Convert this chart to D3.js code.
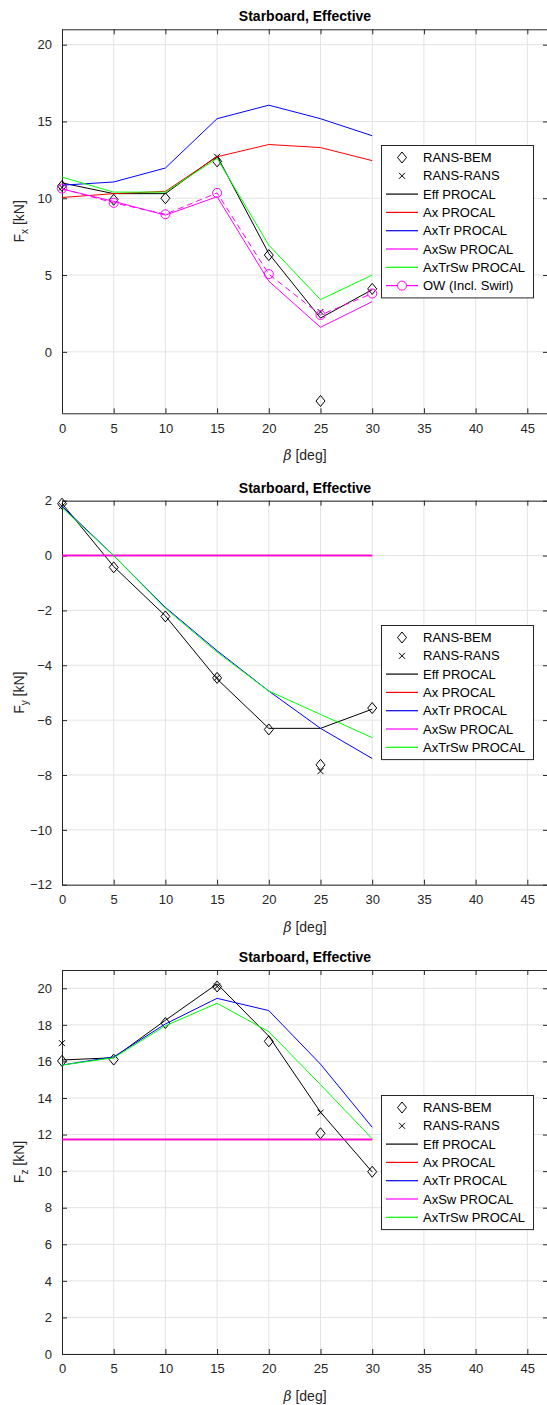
<!DOCTYPE html>
<html>
<head>
<meta charset="utf-8">
<script src="https://cdn.jsdelivr.net/npm/d3@7"></script>
<style>
  body { margin: 0; background: #fff; }
  svg { display: block; font-family: "Liberation Sans", Arial, Helvetica, sans-serif; }
  .tickLabel { font-size: 13px; fill: #262626; }
  .legendText { font-size: 13px; fill: #000; }
</style>
</head>
<body>
<div id="chart"></div>
<script>
var beta = [0, 5, 10, 15, 20, 25, 30];
var betaRansRans = [0, 15, 25];
var xTicks = d3.range(0, 50, 5);

// Fx
var fxRansBem = [10.8, 9.9, 10.0, 12.4, 6.3, -3.2, 4.1];
var fxRansRans = [10.7, 12.7, 2.6];
var fxEff = [11.0, 10.3, 10.3, 12.75, 6.4, 2.2, 4.05];
var fxAx = [10.05, 10.3, 10.45, 12.7, 13.5, 13.3, 12.45];
var fxAxTr = [10.85, 11.06, 11.97, 15.18, 16.06, 15.18, 14.07];
var fxAxSw = [10.6, 9.8, 8.9, 10.1, 4.6, 1.6, 3.27];
var fxAxTrSw = [11.38, 10.4, 10.4, 12.6, 6.95, 3.4, 5.0];
var fxOw = [10.63, 9.7, 8.96, 10.35, 5.06, 2.4, 3.8];

// Fy
var fyRansBem = [1.89, -0.43, -2.22, -4.46, -6.34, -7.63, -5.56];
var fyRansRans = [1.8, -4.45, -7.86];
var fyEff = [1.9, -0.4, -2.2, -4.5, -6.3, -6.3, -5.6];
var fyAx = [0, 0, 0, 0, 0, 0, 0];
var fyAxTr = [1.8, 0.0, -1.89, -3.47, -4.94, -6.3, -7.4];
var fyAxSw = [0, 0, 0, 0, 0, 0, 0];
var fyAxTrSw = [1.75, 0.0, -1.92, -3.52, -4.94, -5.79, -6.64];

// Fz
var fzRansBem = [16.03, 16.1, 18.1, 20.1, 17.1, 12.07, 9.97];
var fzRansRans = [17.0, 20.1, 13.2];
var fzEff = [16.08, 16.2, 18.25, 20.24, 17.38, 13.23, 9.95];
var fzAx = [11.73, 11.73, 11.73, 11.73, 11.73, 11.73, 11.73];
var fzAxTr = [15.8, 16.25, 18.05, 19.45, 18.78, 15.85, 12.4];
var fzAxSw = [11.73, 11.73, 11.73, 11.73, 11.73, 11.73, 11.73];
var fzAxTrSw = [15.8, 16.2, 17.95, 19.18, 17.63, 14.73, 11.77];

var legendNames = ["RANS-BEM", "RANS-RANS", "Eff PROCAL", "Ax PROCAL", "AxTr PROCAL", "AxSw PROCAL", "AxTrSw PROCAL", "OW (Incl. Swirl)"];

//////////////////////////////////////////////////////////////////////////////

var width = 547, height = 1405;
var left = 62, right = 548, plotH = 384;

var svg = d3.select("#chart").append("svg")
    .attr("width", width)
    .attr("height", height);

var panels = [
  { sub: "x", top: 29.3, yDomain: [-4, 21], yTicks: [0, 5, 10, 15, 20], legendTop: 145, flat: false,
    bem: fxRansBem, rr: fxRansRans, eff: fxEff, ax: fxAx, axTr: fxAxTr, axSw: fxAxSw, axTrSw: fxAxTrSw, ow: fxOw },
  { sub: "y", top: 500.7, yDomain: [-12, 2], yTicks: d3.range(-12, 3, 2), legendTop: 625, flat: true,
    bem: fyRansBem, rr: fyRansRans, eff: fyEff, ax: fyAx, axTr: fyAxTr, axSw: fyAxSw, axTrSw: fyAxTrSw, ow: null },
  { sub: "z", top: 970, yDomain: [0, 21], yTicks: d3.range(0, 21, 2), legendTop: 1095, flat: true,
    bem: fzRansBem, rr: fzRansRans, eff: fzEff, ax: fzAx, axTr: fzAxTr, axSw: fzAxSw, axTrSw: fzAxTrSw, ow: null }
];

var xScale = d3.scaleLinear().domain([0, 47]).range([left, right]);

panels.forEach(drawPanel);

//////////////////////////////////////////////////////////////////////////////

function diamondPath(cx, cy) {
  return "M" + cx + "," + (cy - 5.5) + "L" + (cx + 4.5) + "," + cy + "L" + cx + "," + (cy + 5.5) + "L" + (cx - 4.5) + "," + cy + "Z";
}

function crossPath(cx, cy) {
  var r = 3;
  return "M" + (cx - r) + "," + (cy - r) + "L" + (cx + r) + "," + (cy + r) + "M" + (cx - r) + "," + (cy + r) + "L" + (cx + r) + "," + (cy - r);
}

function drawPanel(p) {
  var top = p.top, bottom = p.top + plotH;
  var yScale = d3.scaleLinear().domain(p.yDomain).range([bottom, top]);
  var g = svg.append("g");

  // grid
  g.selectAll(".vgrid")
      .data(xTicks.filter(function(d){ return d > 0; }))
      .enter().append("line")
      .attr("x1", function(d){ return xScale(d); })
      .attr("x2", function(d){ return xScale(d); })
      .attr("y1", top).attr("y2", bottom)
      .attr("stroke", "#e3e3e3").attr("stroke-width", 1);

  g.selectAll(".hgrid")
      .data(p.yTicks)
      .enter().append("line")
      .attr("x1", left).attr("x2", right)
      .attr("y1", function(d){ return yScale(d); })
      .attr("y2", function(d){ return yScale(d); })
      .attr("stroke", "#e3e3e3").attr("stroke-width", 1);

  // axes
  var xAxisB = d3.axisBottom(xScale).tickValues(xTicks).tickSize(-5).tickPadding(10);
  var xAxisT = d3.axisTop(xScale).tickValues(xTicks).tickSize(-5).tickFormat("");
  var yAxisL = d3.axisLeft(yScale).tickValues(p.yTicks).tickSize(-5).tickPadding(10);
  var yAxisR = d3.axisRight(yScale).tickValues(p.yTicks).tickSize(-5).tickFormat("");

  [[xAxisB, "translate(0," + bottom + ")"], [xAxisT, "translate(0," + top + ")"],
   [yAxisL, "translate(" + left + ",0)"], [yAxisR, "translate(" + right + ",0)"]].forEach(function(a) {
    var ax = g.append("g").attr("transform", a[1]).call(a[0].tickSizeOuter(0));
    ax.select(".domain").attr("stroke", "#262626");
    ax.selectAll(".tick line").attr("stroke", "#262626");
    ax.selectAll(".tick text").attr("class", "tickLabel").attr("fill", "#262626").style("font-family", null);
  });

  var line = d3.line()
      .x(function(d){ return xScale(d[0]); })
      .y(function(d){ return yScale(d[1]); });

  function pairs(xs, ys) { return xs.map(function(x, i){ return [x, ys[i]]; }); }

  var series = [
    { v: p.eff, c: "#000000", w: 1 },
    { v: p.ax, c: "#ff0000", w: p.flat ? 1.6 : 1 },
    { v: p.axTr, c: "#0000ff", w: 1 },
    { v: p.axSw, c: "#ff00ff", w: p.flat ? 1.4 : 1 },
    { v: p.axTrSw, c: "#00ff00", w: 1 }
  ];

  // RANS-BEM diamonds
  g.selectAll(".bem")
      .data(pairs(beta, p.bem))
      .enter().append("path")
      .attr("d", function(d){ return diamondPath(xScale(d[0]), yScale(d[1])); })
      .attr("fill", "none").attr("stroke", "#000").attr("stroke-width", 1);

  // RANS-RANS crosses
  g.selectAll(".rr")
      .data(pairs(betaRansRans, p.rr))
      .enter().append("path")
      .attr("d", function(d){ return crossPath(xScale(d[0]), yScale(d[1])); })
      .attr("fill", "none").attr("stroke", "#000").attr("stroke-width", 1);

  series.forEach(function(s) {
    g.append("path")
        .datum(pairs(beta, s.v))
        .attr("d", line)
        .attr("fill", "none")
        .attr("stroke", s.c)
        .attr("stroke-width", s.w);
  });

  if (p.ow) {
    g.append("path")
        .datum(pairs(beta, p.ow))
        .attr("d", line)
        .attr("fill", "none")
        .attr("stroke", "#ff00ff")
        .attr("stroke-dasharray", "6,4")
        .attr("stroke-width", 1);
    g.selectAll(".ow")
        .data(pairs(beta, p.ow))
        .enter().append("circle")
        .attr("cx", function(d){ return xScale(d[0]); })
        .attr("cy", function(d){ return yScale(d[1]); })
        .attr("r", 4.5)
        .attr("fill", "none").attr("stroke", "#ff00ff").attr("stroke-width", 1);
  }

  // title
  g.append("text")
      .attr("x", (left + right) / 2)
      .attr("y", top - 8)
      .attr("text-anchor", "middle")
      .style("font-size", "14px")
      .style("font-weight", "bold")
      .attr("fill", "#000")
      .text("Starboard, Effective");

  // x label
  var xl = g.append("text")
      .attr("x", (left + right) / 2)
      .attr("y", bottom + 47)
      .attr("text-anchor", "middle")
      .style("font-size", "14px")
      .attr("fill", "#262626");
  xl.append("tspan").style("font-style", "italic").style("font-family", "'DejaVu Serif', serif").text("β");
  xl.append("tspan").text(" [deg]");

  // y label
  var yl = g.append("text")
      .attr("transform", "translate(24," + ((top + bottom) / 2) + ") rotate(-90)")
      .attr("text-anchor", "middle")
      .style("font-size", "14px")
      .attr("fill", "#262626");
  yl.append("tspan").text("F");
  yl.append("tspan").attr("dy", 4).style("font-size", "10px").text(p.sub);
  yl.append("tspan").attr("dy", -4).text(" [kN]");

  // legend
  var entries = [
    { t: legendNames[0], m: "d" },
    { t: legendNames[1], m: "x" },
    { t: legendNames[2], c: "#000000" },
    { t: legendNames[3], c: "#ff0000" },
    { t: legendNames[4], c: "#0000ff" },
    { t: legendNames[5], c: "#ff00ff" },
    { t: legendNames[6], c: "#00ff00" }
  ];
  if (p.ow) entries.push({ t: legendNames[7], c: "#ff00ff", m: "o" });

  var rowH = 18.3, lx = 381, lw = 152;
  var lh = entries.length * rowH + 6;
  var lg = g.append("g");
  lg.append("rect")
      .attr("x", lx + 0.5).attr("y", p.legendTop + 0.5)
      .attr("width", lw).attr("height", lh)
      .attr("fill", "#fff").attr("stroke", "#262626").attr("stroke-width", 1);

  entries.forEach(function(e, i) {
    var cy = p.legendTop + 12.5 + i * rowH;
    var mx = 402;
    if (e.c) {
      lg.append("line")
          .attr("x1", 386).attr("x2", 418)
          .attr("y1", cy).attr("y2", cy)
          .attr("stroke", e.c).attr("stroke-width", 1.2);
    }
    if (e.m === "d") {
      lg.append("path").attr("d", diamondPath(mx, cy)).attr("fill", "none").attr("stroke", "#000");
    } else if (e.m === "x") {
      lg.append("path").attr("d", crossPath(mx, cy)).attr("fill", "none").attr("stroke", "#000");
    } else if (e.m === "o") {
      lg.append("circle").attr("cx", mx).attr("cy", cy).attr("r", 4.5)
          .attr("fill", "#fff").attr("stroke", "#ff00ff");
    }
    lg.append("text")
        .attr("class", "legendText")
        .attr("x", 423)
        .attr("y", cy + 4.5)
        .text(e.t);
  });
}
</script>
</body>
</html>
